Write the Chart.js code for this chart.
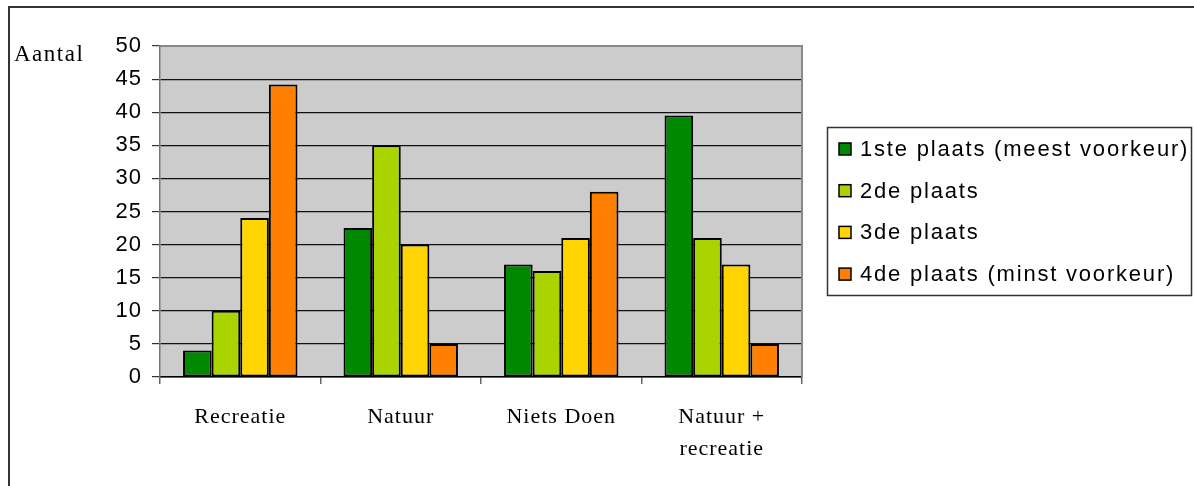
<!DOCTYPE html>
<html>
<head>
<meta charset="utf-8">
<script src="https://cdn.jsdelivr.net/npm/chart.js@4"></script>
<style>
  body { margin: 0; background: #ffffff; }
  #wrap { width: 1194px; height: 486px; position: relative; }
</style>
</head>
<body>
<div id="wrap"><canvas id="myChart"></canvas></div>
<script>
// categories and series
const categories = ["Recreatie", "Natuur", "Niets Doen", ["Natuur +", "recreatie"]];
const seriesNames = ["1ste plaats (meest voorkeur)", "2de plaats", "3de plaats", "4de plaats (minst voorkeur)"];
const eerste = [4, 22.5, 17, 39.5];
const tweede = [10, 35, 16, 21];
const derde = [24, 20, 21, 17];
const vierde = [44.2, 5, 28, 5];
const colors = ["#008800", "#aad400", "#ffd400", "#ff7f00"];
const yTicks = [0, 5, 10, 15, 20, 25, 30, 35, 40, 45, 50];

const seriesData = [eerste, tweede, derde, vierde];

const framePlugin = {
    id: "frame",
    beforeDraw(chart) {
        const ctx = chart.ctx;
        const a = chart.chartArea;
        ctx.save();
        // outer frame
        ctx.strokeStyle = "#333333";
        ctx.lineWidth = 2;
        ctx.beginPath();
        ctx.moveTo(9, 486);
        ctx.lineTo(9, 7);
        ctx.lineTo(1194, 7);
        ctx.stroke();
        // plot background
        ctx.fillStyle = "#cccccc";
        ctx.fillRect(a.left, a.top, a.right - a.left, a.bottom - a.top);
        ctx.restore();
        ctx.letterSpacing = "1px";
    },
    afterDraw(chart) {
        const ctx = chart.ctx;
        const a = chart.chartArea;
        ctx.save();
        // plot border top / right
        ctx.strokeStyle = "#888888";
        ctx.lineWidth = 2;
        ctx.beginPath();
        ctx.moveTo(a.left, a.top);
        ctx.lineTo(a.right, a.top);
        ctx.lineTo(a.right, a.bottom);
        ctx.stroke();

        // "Aantal" label
        ctx.letterSpacing = "1.5px";
        ctx.fillStyle = "#000000";
        ctx.font = "23px 'Liberation Serif', 'Times New Roman', serif";
        ctx.textAlign = "left";
        ctx.textBaseline = "middle";
        ctx.fillText("Aantal", 14, 55);

        // legend box
        ctx.strokeStyle = "#333333";
        ctx.lineWidth = 1.5;
        ctx.strokeRect(827.5, 127.5, 364, 168);
        ctx.font = "22px 'Liberation Sans', Arial, sans-serif";
        ctx.letterSpacing = "1.8px";
        chart.data.datasets.forEach((ds, i) => {
            const y = 149 + i * 41.7;
            ctx.fillStyle = ds.backgroundColor;
            ctx.fillRect(839, y - 6, 12, 12);
            ctx.strokeStyle = "#000000";
            ctx.lineWidth = 1.5;
            ctx.strokeRect(839, y - 6, 12, 12);
            ctx.fillStyle = "#000000";
            ctx.fillText(ds.label, 860, y + 1);
        });
        ctx.restore();
    }
};

const ctx = document.getElementById("myChart");

new Chart(ctx, {
    type: "bar",
    data: {
        labels: categories,
        datasets: seriesData.map((d, i) => ({
            label: seriesNames[i],
            data: d,
            backgroundColor: colors[i],
            borderColor: "#000000",
            borderWidth: 2,
            borderSkipped: false,
            categoryPercentage: 0.713,
            barPercentage: 1.0
        }))
    },
    options: {
        animation: false,
        responsive: true,
        maintainAspectRatio: false,
        layout: { padding: { top: 46, right: 392, left: 0, bottom: 0 } },
        plugins: {
            legend: { display: false },
            tooltip: { enabled: false }
        },
        scales: {
            x: {
                grid: {
                    offset: true,
                    drawOnChartArea: false,
                    drawTicks: true,
                    tickLength: 7,
                    color: "#666666",
                    lineWidth: 1.5
                },
                border: { color: "#000000", width: 1.5 },
                ticks: {
                    color: "#000000",
                    padding: 17,
                    maxRotation: 0,
                    font: { family: "'Liberation Serif', 'Times New Roman', serif", size: 22, lineHeight: 1.45 }
                },
                afterFit(scale) { scale.height = 109; }
            },
            y: {
                min: 0,
                max: 50,
                afterBuildTicks(scale) { scale.ticks = yTicks.map(v => ({ value: v })); },
                grid: {
                    color: "#111111",
                    lineWidth: 1.2,
                    tickLength: 8,
                    tickColor: "#333333"
                },
                border: { color: "#777777", width: 1.5 },
                ticks: {
                    color: "#000000",
                    padding: 10,
                    font: { family: "'Liberation Sans', Arial, sans-serif", size: 22 }
                },
                afterFit(scale) { scale.width = 160; }
            }
        }
    },
    plugins: [framePlugin]
});
</script>
</body>
</html>
